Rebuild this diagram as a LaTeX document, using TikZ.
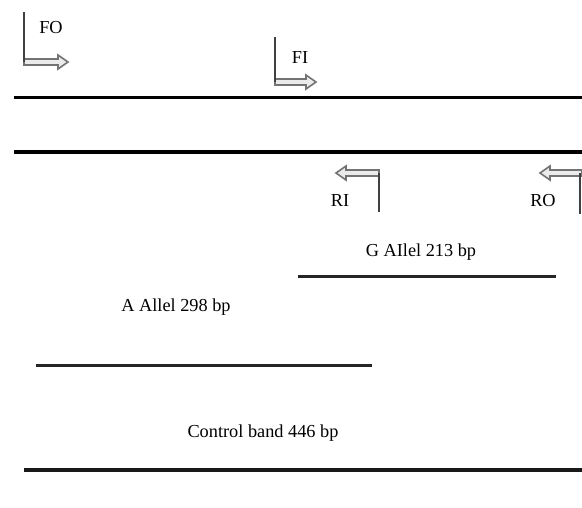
\documentclass[tikz,border=0pt]{standalone}
\usepackage{fontspec}
\setmainfont{Liberation Serif}
\begin{document}
\begin{tikzpicture}[x=1pt,y=-1pt,
  band/.style={line width=3pt,black!85},
  stem/.style={line width=2.5pt,black!75},
  hollow/.style={draw=black!55,fill=black!8,line width=1.6pt,line join=miter},
  lbl/.style={font=\fontsize{18.3}{21}\selectfont,inner sep=1pt}]
\useasboundingbox (0,0) rectangle (582,507);
% strands
\coordinate (s1a) at (14,97); \coordinate (s1b) at (582,97);
\coordinate (s2a) at (14,152); \coordinate (s2b) at (582,152);
\draw[line width=3pt] (s1a) -- (s1b);
\draw[line width=4.5pt] (s2a) -- (s2b);
% FO
\coordinate (fo0) at (24,12); \coordinate (fo1) at (24,62);
\draw[hollow] (24,59) -- (58,59) -- (58,55) -- (68,62) -- (58,69) -- (58,65) -- (24,65) -- cycle;
\draw[stem] (fo0) -- (fo1);
\node[lbl] (FO) at (51,28) {FO};
% FI
\coordinate (fi0) at (275,37); \coordinate (fi1) at (275,82);
\draw[hollow] (275,79) -- (306,79) -- (306,75) -- (316,82) -- (306,89) -- (306,85) -- (275,85) -- cycle;
\draw[stem] (fi0) -- (fi1);
\node[lbl] (FI) at (300,58) {FI};
% RI
\coordinate (ri0) at (379,173); \coordinate (ri1) at (379,212);
\draw[hollow] (379,170) -- (346,170) -- (346,166) -- (336,173) -- (346,180) -- (346,176) -- (379,176) -- cycle;
\draw[stem] (ri0) -- (ri1);
\node[lbl] (RI) at (340,201) {RI};
% RO
\coordinate (ro0) at (580,173); \coordinate (ro1) at (580,214);
\draw[hollow] (582,170) -- (550,170) -- (550,166) -- (540,173) -- (550,180) -- (550,176) -- (582,176) -- cycle;
\draw[stem] (ro0) -- (ro1);
\node[lbl] (RO) at (543,201) {RO};
% bands
\node[lbl] (g) at (421,252) {G AIlel 213 bp};
\coordinate (ga) at (298,276); \coordinate (gb) at (556,276);
\draw[band] (ga) -- (gb);
\node[lbl] (a) at (176,307) {A Allel 298 bp};
\coordinate (aa) at (36,365); \coordinate (ab) at (372,365);
\draw[band] (aa) -- (ab);
\node[lbl] (c) at (263,433) {Control band 446 bp};
\coordinate (ca) at (24,470); \coordinate (cb) at (582,470);
\draw[line width=3.5pt,black!90] (ca) -- (cb);
\end{tikzpicture}
\end{document}
